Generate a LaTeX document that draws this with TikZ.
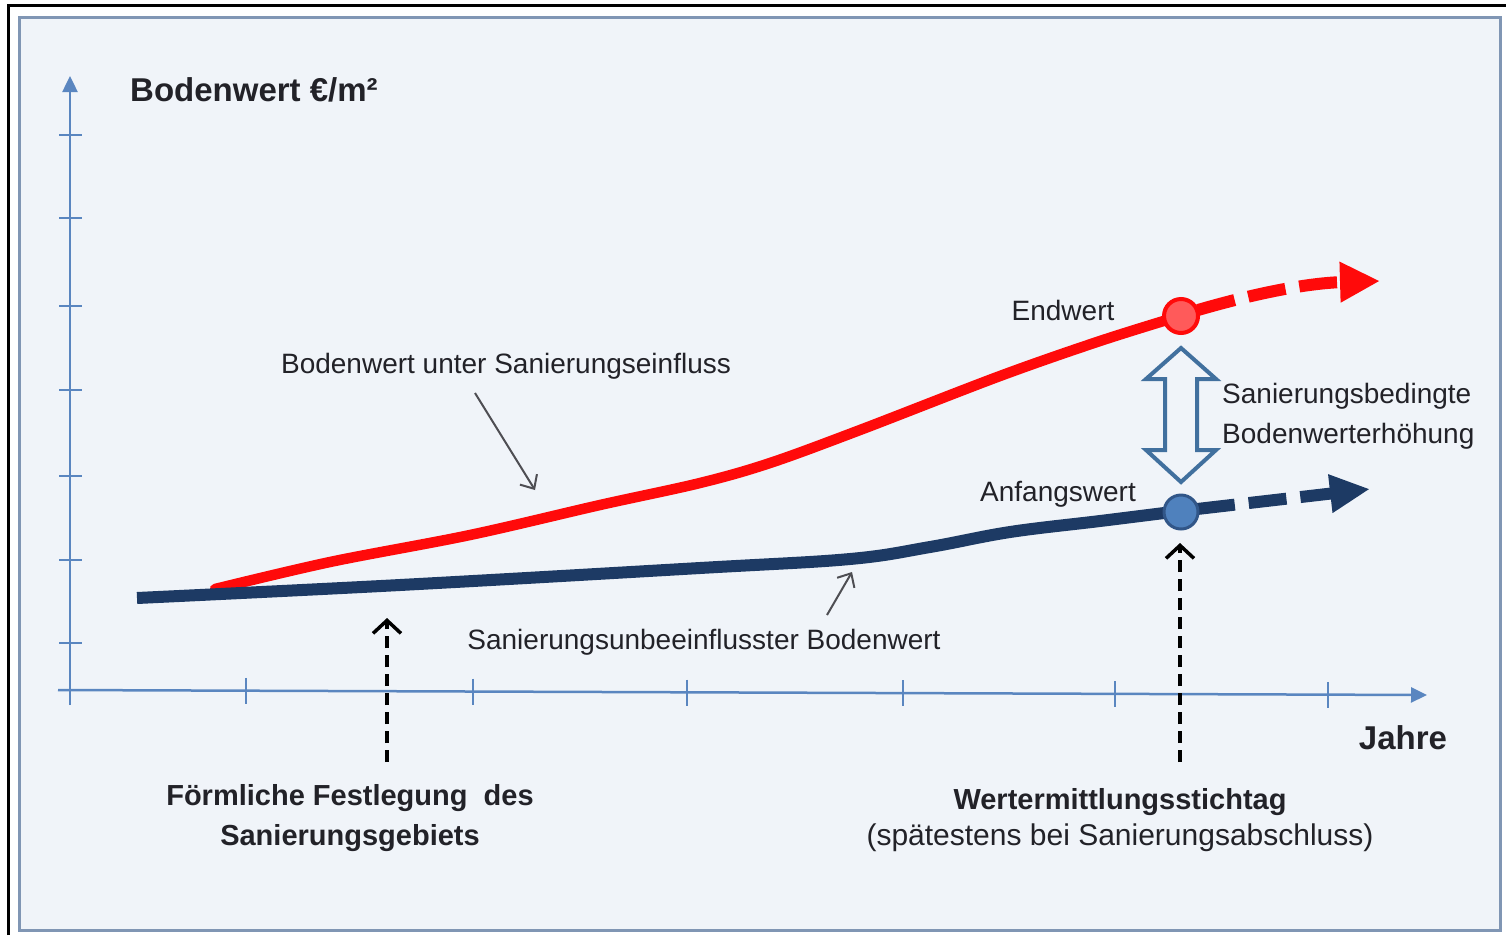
\documentclass[tikz,border=0pt]{standalone}
\usepackage{fontspec}
\setmainfont{Liberation Sans}
\usetikzlibrary{arrows.meta}
\definecolor{bgfill}{HTML}{F0F4F9}
\definecolor{framec}{HTML}{8096B4}
\definecolor{axisc}{HTML}{5A86C0}
\definecolor{redc}{HTML}{FF0A0A}
\definecolor{redfill}{HTML}{FF5A5A}
\definecolor{navyc}{HTML}{1D3A64}
\definecolor{navyfill}{HTML}{4F81BD}
\definecolor{dblc}{HTML}{41709E}
\definecolor{txtc}{HTML}{222228}
\tikzset{
  axisline/.style={draw=axisc, line width=2.5pt},
  tickline/.style={draw=axisc, line width=2pt},
  redline/.style={draw=redc, line width=10.5pt, line cap=round},
  navyline/.style={draw=navyc, line width=12pt},
  reddash/.style={draw=redc, line width=12pt, dash pattern=on 38pt off 14pt, -{Triangle[length=40pt,width=38pt]}},
  navydash/.style={draw=navyc, line width=12pt, dash pattern=on 38pt off 14pt, -{Triangle[length=40pt,width=36pt]}},
  pointerarrow/.style={draw=txtc!80, line width=2pt, -{Straight Barb[length=11pt,width=20pt]}},
  datedash/.style={draw=black, line width=3.5pt, dash pattern=on 12pt off 7pt, -{Straight Barb[length=13pt,width=28pt]}},
  lbl/.style={text=txtc, font=\fontsize{28}{32}\selectfont, inner sep=0pt},
  blbl/.style={text=txtc, font=\fontsize{29}{40}\selectfont\bfseries, inner sep=0pt, align=center},
  bigl/.style={text=txtc, font=\fontsize{33}{38}\selectfont\bfseries, inner sep=0pt},
}
\begin{document}
\begin{tikzpicture}[x=1pt,y=-1pt]
\useasboundingbox (0,0) rectangle (1506,935);
\fill[white] (0,0) rectangle (1506,935);
% outer black edges
\draw[black, line width=3pt] (8,935) -- (8,5) -- (1506,5);
% inner frame
\draw[fill=bgfill, draw=framec, line width=3pt] (19,17) rectangle (1500,930);

% axes
\coordinate (yb) at (70,705);
\coordinate (yt) at (70,76);
\coordinate (xl) at (58,690);
\coordinate (xr) at (1427,695);
\draw[axisline, -{Triangle[length=16pt,width=15pt]}] (yb) -- (yt);
\draw[axisline, -{Triangle[length=16pt,width=15pt]}] (xl) -- (xr);
\foreach \yy in {135,218,306,390,476,560,643}
  \draw[tickline] (59,\yy) -- (82,\yy);
\foreach \xx/\yy in {246/690.9,473/691.7,687/692.5,903/693.3,1115/694.1,1328/694.9}
  \draw[tickline] (\xx,\yy-13) -- (\xx,\yy+13);

% curves
\draw[redline] plot[smooth, tension=0.55] coordinates {(215,589) (330,562) (470,535) (600,505) (700,483) (770,463) (860,430) (1000,376) (1100,341) (1180,316)};
\draw[navyline] plot[smooth, tension=0.6] coordinates {(137,598) (400,585) (700,568) (850,559) (930,547) (1010,532) (1100,521) (1180,511)};

% dashed continuations
\coordinate (rs) at (1198,310);
\coordinate (re) at (1380,281);
\coordinate (ns) at (1197,509);
\coordinate (ne) at (1370,489);
\draw[reddash] (rs) .. controls (1260,292) and (1310,283) .. (re);
\draw[navydash] (ns) -- (ne);

% end points
\node[circle, draw=redc, fill=redfill, line width=4pt, minimum size=34pt, inner sep=0pt] (endp) at (1181,316) {};
\node[circle, draw=navyc!60!navyfill, fill=navyfill, line width=3pt, minimum size=34pt, inner sep=0pt] (anfp) at (1181,512) {};

% hollow double arrow
\draw[draw=dblc, fill=bgfill, line width=4pt, line join=miter]
  (1181,348) -- (1216,379) -- (1197,379) -- (1197,450) -- (1216,450) -- (1181,482)
  -- (1146,450) -- (1165,450) -- (1165,379) -- (1146,379) -- cycle;

% labels
\node[bigl, anchor=west] (ylab) at (130,90) {Bodenwert €/m²};
\node[bigl] (xlab) at (1403,738) {Jahre};
\node[lbl] (endl) at (1063,310) {Endwert};
\node[lbl] (anfl) at (1058,494) {Anfangswert};
\node[lbl, anchor=west, align=left, font=\fontsize{28}{40}\selectfont] (sbl) at (1222,416) {Sanierungsbedingte\\Bodenwerterhöhung};
\node[lbl] (unterl) at (506,366) {Bodenwert unter Sanierungseinfluss};
\node[lbl] (unbel) at (704,642) {Sanierungsunbeeinflusster Bodenwert};
\node[blbl] (festl) at (350,818) {Förmliche Festlegung\ \ des\\Sanierungsgebiets};
\node[blbl] (wertl) at (1120,802) {Wertermittlungsstichtag};
\node[lbl, font=\fontsize{30}{34}\selectfont] (spaet) at (1120,838) {(spätestens bei Sanierungsabschluss)};

% pointer arrows
\coordinate (p1s) at (475,393);
\coordinate (p1e) at (535,490);
\coordinate (p2s) at (827,615);
\coordinate (p2e) at (852,572);
\draw[pointerarrow] (p1s) -- (p1e);
\draw[pointerarrow] (p2s) -- (p2e);

% date arrows
\coordinate (d1s) at (387,762);
\coordinate (d1e) at (387,618);
\coordinate (d2s) at (1180,762);
\coordinate (d2e) at (1180,543);
\draw[datedash] (d1s) -- (d1e);
\draw[datedash] (d2s) -- (d2e);
\end{tikzpicture}
\end{document}
